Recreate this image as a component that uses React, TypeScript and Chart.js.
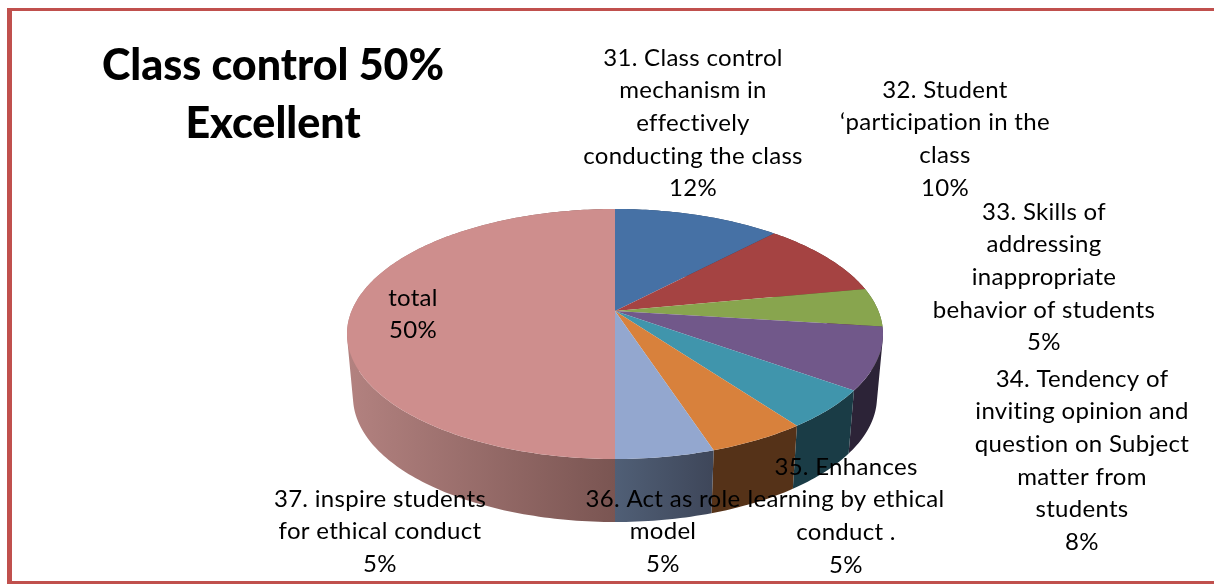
import React, { useEffect, useRef } from "react";
import { Chart, registerables } from "chart.js";

Chart.register(...registerables);

const titleLines = ["Class control 50%", "Excellent"];
const categories = [
  ["31. Class control", "mechanism in", "effectively", "conducting the class"],
  ["32. Student", "‘participation in the", "class"],
  ["33. Skills of", "addressing", "inappropriate", "behavior of students"],
  ["34. Tendency of", "inviting opinion and", "question on Subject", "matter from", "students"],
  ["35. Enhances", "learning by ethical", "conduct ."],
  ["36. Act as role", "model"],
  ["37. inspire students", "for ethical conduct"],
  ["total"],
];
const values = [12, 10, 5, 8, 5, 5, 5, 50];
const faceColors = ["#4671A5", "#A54342", "#88A54E", "#71588A", "#4095AC", "#D8813C", "#93A7CF", "#CE8E8D"];
const sideColors: (string | [string, string])[] = [
  "#2B4464", "#642928", "#52642F", "#2C2337", "#1A3C46", "#553218",
  ["#505F76", "#3E4659"],
  ["#B38280", "#7A5552"],
];
const labelX = [693, 945, 1044, 1082, 846, 663, 380, 413];
const labelY = [58, 90, 212, 379, 467, 499, 499, 298];

const LINE_H = 32.6;
const FONT = "Lato, Carlito, sans-serif";

// Projective view of the pie: maps the library's arc angles onto a tilted ellipse.
const TILT = -0.184;
const view = { top: { sx: 268 / 250, sy: 125 / 250, dy: 0 }, bottom: { sx: 262 / 250, sy: 125 / 250, dy: 63 } };

function project(a: number, el: any, v: { sx: number; sy: number; dy: number }) {
  const x = Math.cos(a);
  const y = Math.sin(a);
  const d = 1 + TILT * y;
  const px = (x * Math.sqrt(1 - TILT * TILT)) / d;
  const py = (y + TILT) / d;
  return [el.x + el.outerRadius * v.sx * px, el.y + v.dy + el.outerRadius * v.sy * py];
}

const pie3d = {
  id: "pie3d",
  beforeDatasetDraw(chart: any) {
    const { ctx } = chart;
    const arcs = chart.getDatasetMeta(0).data;
    const step = Math.PI / 180;
    ctx.save();
    arcs.forEach((el: any, i: number) => {
      const s = sideColors[i];
      const angles: number[] = [];
      for (let a = el.startAngle; a < el.endAngle; a += step) angles.push(a);
      angles.push(el.endAngle);
      ctx.beginPath();
      for (let k = 0; k + 1 < angles.length; k++) {
        let q = [
          project(angles[k], el, view.top),
          project(angles[k + 1], el, view.top),
          project(angles[k + 1], el, view.bottom),
          project(angles[k], el, view.bottom),
        ];
        const area = q.reduce((acc, p, n) => {
          const r = q[(n + 1) % 4];
          return acc + p[0] * r[1] - r[0] * p[1];
        }, 0);
        if (area < 0) q = q.reverse();
        q.forEach((p, n) => (n ? ctx.lineTo(p[0], p[1]) : ctx.moveTo(p[0], p[1])));
        ctx.closePath();
      }
      if (Array.isArray(s)) {
        const xs = i === 7 ? [el.x - 268, el.x] : [el.x, el.x + 100];
        const g = ctx.createLinearGradient(xs[0], 0, xs[1], 0);
        g.addColorStop(0, s[0]);
        g.addColorStop(1, s[1]);
        ctx.fillStyle = g;
      } else {
        ctx.fillStyle = s;
      }
      ctx.fill();
    });
    arcs.forEach((el: any, i: number) => {
      const cx = el.x;
      const cy = el.y + el.outerRadius * view.top.sy * TILT;
      ctx.beginPath();
      ctx.moveTo(cx, cy);
      for (let a = el.startAngle; a < el.endAngle; a += step) {
        const p = project(a, el, view.top);
        ctx.lineTo(p[0], p[1]);
      }
      const e = project(el.endAngle, el, view.top);
      ctx.lineTo(e[0], e[1]);
      ctx.closePath();
      ctx.fillStyle = faceColors[i];
      ctx.fill();
    });
    ctx.restore();
    return false;
  },
  afterDatasetsDraw(chart: any) {
    const { ctx } = chart;
    ctx.save();
    ctx.fillStyle = "#000";
    ctx.textAlign = "center";
    ctx.textBaseline = "middle";
    ctx.font = `24px ${FONT}`;
    ctx.letterSpacing = "0.3px";
    categories.forEach((lines, i) => {
      [...lines, `${values[i]}%`].forEach((t, k) => ctx.fillText(t, labelX[i], labelY[i] + k * LINE_H));
    });
    ctx.font = `900 43px ${FONT}`;
    ctx.letterSpacing = "0px";
    titleLines.forEach((t, k) => ctx.fillText(t, 273, 66 + k * 58));
    ctx.restore();
  },
};

export default function App() {
  const ref = useRef<HTMLCanvasElement>(null);
  useEffect(() => {
    document.body.style.margin = "0";
    const c = ref.current!;
    const chart = new Chart(c, {
      type: "pie",
      data: {
        labels: categories.map((l) => l.join(" ")),
        datasets: [{ data: values, backgroundColor: faceColors, borderWidth: 0 }],
      },
      options: {
        responsive: false,
        animation: false,
        layout: { padding: { left: 16, top: 84, right: 0, bottom: 0 } },
        plugins: { legend: { display: false }, tooltip: { enabled: false } },
      },
      plugins: [pie3d],
    } as any);
    return () => chart.destroy();
  }, []);
  return (
    <div style={{ position: "relative", width: 1214, height: 584, overflow: "hidden", background: "#fff" }}>
      <canvas ref={ref} width={1214} height={584} style={{ display: "block" }} />
      <div style={{ position: "absolute", left: 7, top: 8, width: 1207, height: 3, background: "#C0504D" }} />
      <div style={{ position: "absolute", left: 7, top: 8, width: 5, height: 576, background: "#C0504D" }} />
      <div style={{ position: "absolute", left: 7, top: 581, width: 1207, height: 3, background: "#C0504D" }} />
    </div>
  );
}
